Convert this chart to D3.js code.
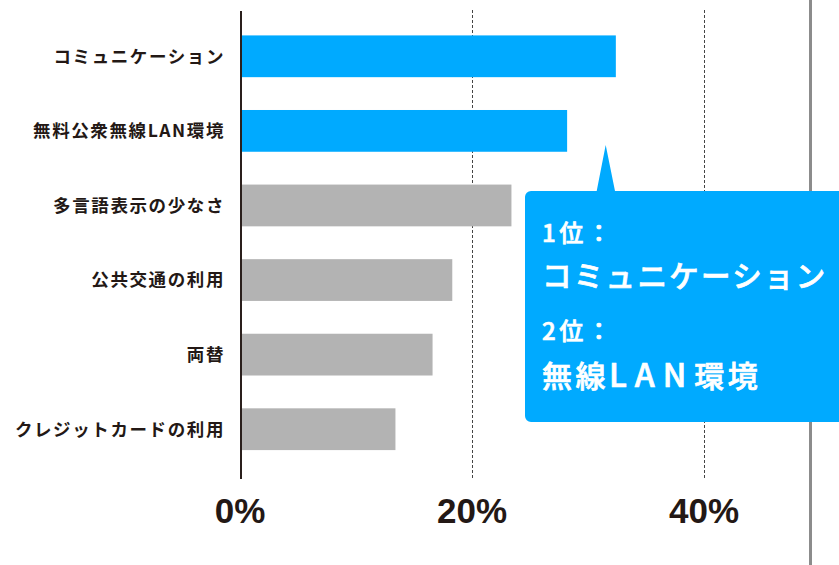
<!DOCTYPE html>
<html>
<head>
<meta charset="utf-8">
<script src="https://cdn.jsdelivr.net/npm/d3@7"></script>
<style>
  html, body { margin: 0; padding: 0; background: #fff; }
  svg { display: block; }
</style>
</head>
<body>
<svg id="chart" width="839" height="565"></svg>
<script>
// ---- data ----
const categories = ["コミュニケーション", "無料公衆無線LAN環境", "多言語表示の少なさ", "公共交通の利用", "両替", "クレジットカードの利用"];
const values = [32.4, 28.2, 23.4, 18.3, 16.6, 13.4];
const highlighted = [true, true, false, false, false, false];
const tickValues = [0, 20, 40];
const tickLabels = ["0%", "20%", "40%"];
const calloutLines = ["1位：", "コミュニケーション", "2位：", "無線LAN環境"];

// ---- layout ----
const svg = d3.select("#chart");
const W = 839, H = 565;
const x = d3.scaleLinear().domain([0, 40]).range([240, 704]);
const y = d3.scaleBand().domain(categories).range([19, 466.5]).paddingInner(0.44).paddingOuter(0.22);

const textColor = "#231815";
const blue = "#00aaff";
const gray = "#b3b3b3";

// right frame line
svg.append("line")
  .attr("x1", 810.5).attr("x2", 810.5).attr("y1", 0).attr("y2", H)
  .attr("stroke", "#8c8c8c").attr("stroke-width", 3);

// dashed gridlines
svg.append("g").selectAll("line")
  .data(tickValues.filter(d => d !== 0))
  .join("line")
  .attr("x1", d => Math.round(x(d)) + 0.5).attr("x2", d => Math.round(x(d)) + 0.5)
  .attr("y1", 10).attr("y2", 479)
  .attr("stroke", "#444").attr("stroke-width", 1)
  .attr("stroke-dasharray", "3,2");

// bars
svg.append("g").selectAll("rect")
  .data(categories)
  .join("rect")
  .attr("x", x(0))
  .attr("y", d => y(d))
  .attr("width", (d, i) => x(values[i]) - x(0))
  .attr("height", y.bandwidth())
  .attr("fill", (d, i) => highlighted[i] ? blue : gray);

// axis line
svg.append("line")
  .attr("x1", 241).attr("x2", 241).attr("y1", 11).attr("y2", 479)
  .attr("stroke", "#2a1f1c").attr("stroke-width", 2);

// category labels
svg.append("g").selectAll("text")
  .data(categories)
  .join("text")
  .attr("x", 225)
  .attr("y", d => y(d) + y.bandwidth() / 2)
  .attr("dy", "0.36em")
  .attr("text-anchor", "end")
  .attr("font-family", "'Noto Sans CJK JP', sans-serif")
  .attr("font-weight", 700)
  .attr("font-size", 17.5)
  .attr("letter-spacing", 1.6)
  .attr("fill", textColor)
  .text(d => d);

// x tick labels
svg.append("g").selectAll("text")
  .data(tickValues)
  .join("text")
  .attr("x", d => x(d))
  .attr("y", 523)
  .attr("text-anchor", "middle")
  .attr("font-family", "'Liberation Sans', Arial, sans-serif")
  .attr("font-weight", 700)
  .attr("font-size", 35)
  .attr("fill", textColor)
  .text((d, i) => tickLabels[i]);

// callout
const bx = 525, by = 191, bw = 330, bh = 231, r = 6;
const tipX = 605.7, tipY = 145, baseL = 596.7, baseR = 615;
const p = d3.path();
p.moveTo(bx + r, by);
p.lineTo(baseL, by);
p.lineTo(tipX, tipY);
p.lineTo(baseR, by);
p.lineTo(bx + bw - r, by);
p.arcTo(bx + bw, by, bx + bw, by + r, r);
p.lineTo(bx + bw, by + bh - r);
p.arcTo(bx + bw, by + bh, bx + bw - r, by + bh, r);
p.lineTo(bx + r, by + bh);
p.arcTo(bx, by + bh, bx, by + bh - r, r);
p.lineTo(bx, by + r);
p.arcTo(bx, by, bx + r, by, r);
p.closePath();
svg.append("path").attr("d", p.toString()).attr("fill", blue);

const lineSpecs = [
  { y: 242, size: 24, ls: 3.5 },
  { y: 287, size: 29.5, ls: 2.3 },
  { y: 340, size: 24, ls: 3.5 },
  { y: 387, size: 30, ls: 3.5 }
];
const ct = svg.append("g")
  .attr("font-family", "'Noto Sans CJK JP', sans-serif")
  .attr("font-weight", 500)
  .attr("fill", "#fff")
  .attr("stroke", "#fff")
  .attr("stroke-width", 0.7);
calloutLines.forEach((t, i) => {
  const s = lineSpecs[i];
  const txt = ct.append("text")
    .attr("x", 542)
    .attr("y", s.y)
    .attr("font-size", s.size)
    .attr("letter-spacing", s.ls);
  const m = t.match(/^(.*?)([A-Z]+)(.*)$/);
  if (m) {
    txt.append("tspan").text(m[1]);
    txt.append("tspan").attr("font-size", 32).attr("letter-spacing", 8).text(m[2]);
    txt.append("tspan").text(m[3]);
  } else {
    txt.text(t);
  }
});
</script>
</body>
</html>
